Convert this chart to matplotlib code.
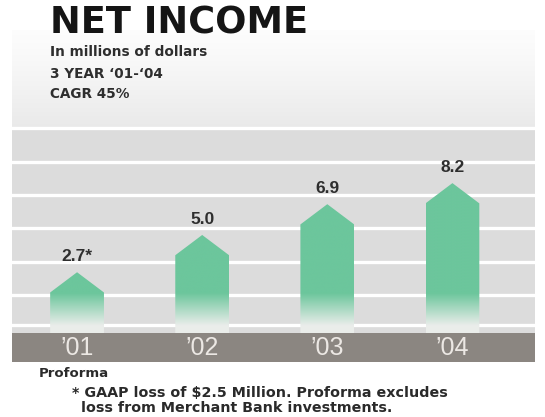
import numpy as np
import matplotlib.pyplot as plt
from matplotlib.colors import to_rgb

# net income, millions of dollars
years = ["\u201901", "\u201902", "\u201903", "\u201904"]
income = [2.7, 5.0, 6.9, 8.2]
value_labels = ["2.7*", "5.0", "6.9", "8.2"]
stripe_levels = [-0.55, 1.3, 3.33, 5.43, 7.47, 9.5, 11.6]

BAR = "#6cc69c"
BG = "#dcdcdc"
BAND = "#8b8681"
W, H = 545, 417

plt.rcParams["font.family"] = ["DejaVu Sans"]

fig = plt.figure(figsize=(W / 100, H / 100), dpi=100)


def px_box(x0, y0, x1, y1):
    # pixel box (top-left origin) -> figure fraction rect
    return [x0 / W, 1 - y1 / H, (x1 - x0) / W, (y1 - y0) / H]


ax = fig.add_axes(px_box(12, 30, 535, 362))
ylo, yhi = -2.84, 17.65
band_top = -1.05
xlo, xhi = -0.52, 3.66
ax.set_xlim(xlo, xhi)
ax.set_ylim(ylo, yhi)

# panel background: near white at the top, soft grey ramp down to the
# top stripe, flat grey underneath
top = stripe_levels[-1]
ax.axhspan(band_top, top, color=BG, lw=0, zorder=0)
t = np.linspace(0, 1, 300)[:, None] ** 1.3
grad = (1 - t) * np.array([0.99, 0.99, 0.99]) + t * np.array(to_rgb("#e9e9e9"))
ax.imshow(grad[:, None, :].repeat(2, axis=1), extent=(xlo, xhi, top, yhi),
          origin="upper", aspect="auto", zorder=0)

for lv in stripe_levels:
    ax.axhline(lv, color="white", lw=2.4, zorder=1)

# dark strip holding the year labels
ax.axhspan(ylo, band_top, color=BAND, zorder=1.5, lw=0)

# pointed bars with a soft fade into the background near the base
half_w, tip = 0.215, 1.25
green = np.array(to_rgb(BAR))
for i, v in enumerate(income):
    xs = [i - half_w, i - half_w, i, i + half_w, i + half_w]
    ys = [band_top, v - tip, v, v - tip, band_top]
    poly = ax.fill(xs, ys, color="none", lw=0, zorder=2)[0]
    yy = np.linspace(v, band_top, 400)
    a = np.clip((yy - (-0.6)) / (1.4 - (-0.6)), 0, 1)[:, None]
    col = a * green + (1 - a) * np.array([0.92, 0.93, 0.92])
    img = ax.imshow(col[:, None, :].repeat(2, axis=1),
                    extent=(i - half_w, i + half_w, band_top, v),
                    origin="upper", aspect="auto", zorder=2)
    img.set_clip_path(poly)
    ax.text(i, v + 0.68, value_labels[i], ha="center", va="baseline",
            fontsize=12.5, fontweight="bold", color="#2e2e2e", zorder=4,
            family=["Liberation Sans"])

ax.set_xticks(range(len(years)), years)
ax.tick_params(axis="x", length=0, pad=-19, labelsize=18, labelcolor="#ece8e4")
for lab in ax.get_xticklabels():
    lab.set_family(["Liberation Sans"])
ax.set_yticks([])
for s in ax.spines.values():
    s.set_visible(False)

# heading block
fig.text(50 / W, 1 - 34 / H, "NET INCOME", fontsize=26.5, fontweight="bold",
         color="#151515", va="baseline")
sub = ["In millions of dollars", "3 YEAR \u201801-\u201804", "CAGR 45%"]
for txt, base in zip(sub, [56, 78, 98]):
    fig.text(50 / W, 1 - base / H, txt, fontsize=9.8, fontweight="bold",
             color="#2e2e2e", va="baseline")

# footnotes
fig.text(39 / W, 1 - 377 / H, "Proforma", fontsize=9.5, color="#2a2a2a",
         va="baseline", fontweight="bold")
fig.text(72 / W, 1 - 397 / H, "* GAAP loss of $2.5 Million. Proforma excludes",
         fontsize=10.3, color="#2a2a2a", va="baseline", fontweight="bold")
fig.text(81 / W, 1 - 412 / H, "loss from Merchant Bank investments.",
         fontsize=10.3, color="#2a2a2a", va="baseline", fontweight="bold")

fig.savefig("out.png", dpi=100)
